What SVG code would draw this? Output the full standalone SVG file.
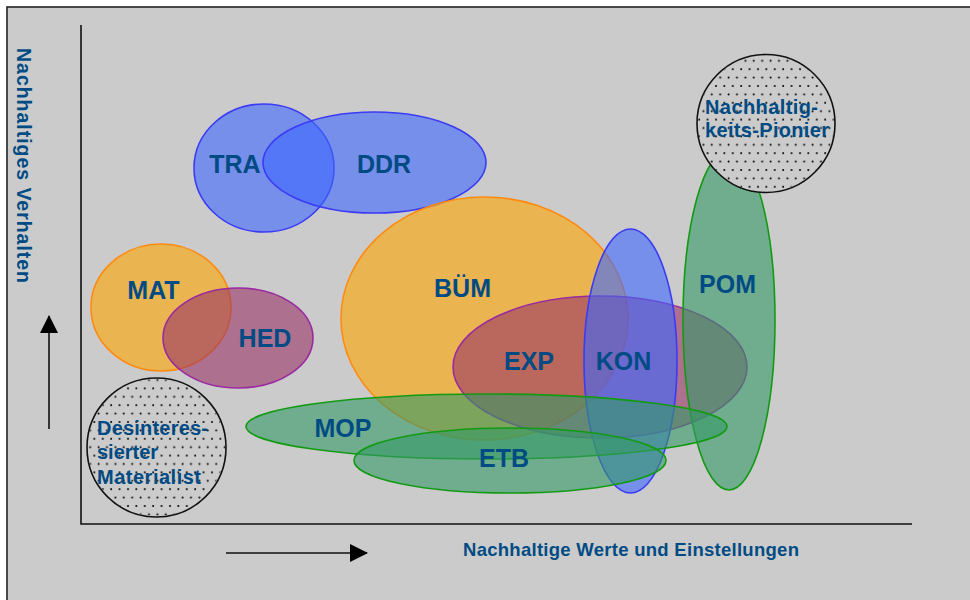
<svg xmlns="http://www.w3.org/2000/svg" width="970" height="600" viewBox="0 0 970 600">
  <defs>
    <pattern id="dots" width="8.4" height="16.8" patternUnits="userSpaceOnUse">
      <circle cx="2" cy="2" r="1" fill="#000"/>
      <circle cx="6.2" cy="10.4" r="1" fill="#000"/>
    </pattern>
    <marker id="arrow" viewBox="0 0 18 18" refX="17" refY="9" markerWidth="18" markerHeight="18" markerUnits="userSpaceOnUse" orient="auto">
      <path d="M0,0 L18,9 L0,18 Z" fill="#000"/>
    </marker>
  </defs>
  <style>
    .blue { fill: #3d67ff; fill-opacity: 0.6; stroke: #3b3bf5; stroke-width: 1.6; }
    .orange { fill: #ffa500; fill-opacity: 0.6; stroke: #ff8a10; stroke-width: 1.6; }
    .purple { fill: #993366; fill-opacity: 0.6; stroke: #9a2aa0; stroke-width: 1.6; }
    .green { fill: #339966; fill-opacity: 0.6; stroke: #139a13; stroke-width: 1.6; }
    .type { fill: #cbcbcb; stroke: #111; stroke-width: 1.6; }
    .lbl { font-family: "Liberation Sans", Arial, sans-serif; font-weight: bold; font-size: 25px; fill: #004b84; text-anchor: middle; }
    .tlbl { font-family: "Liberation Sans", Arial, sans-serif; font-weight: bold; font-size: 20px; fill: #004b84; }
    .axl { font-family: "Liberation Sans", Arial, sans-serif; font-weight: bold; font-size: 18.5px; fill: #004b84; }
    .axv { font-size: 19.5px; }
    .axis { stroke: #111; stroke-width: 1.6; fill: none; }
  </style>

  <!-- background panel -->
  <rect x="0" y="0" width="970" height="600" fill="#fff"/>
  <rect x="7" y="7" width="970" height="600" fill="#cbcbcb" stroke="#222" stroke-width="1.6"/>

  <!-- axes and direction arrows -->
  <g id="connectors">
    <polyline class="axis" points="81,25 81,524 912,524"/>
    <line class="axis" x1="49" y1="429" x2="49" y2="316" marker-end="url(#arrow)"/>
    <line class="axis" x1="226" y1="553" x2="367" y2="553" marker-end="url(#arrow)"/>
  </g>

  <!-- segment areas -->
  <g id="TRA"><ellipse class="blue" cx="264" cy="168" rx="70" ry="64"/></g>
  <g id="DDR"><ellipse class="blue" cx="374.5" cy="162.5" rx="111.5" ry="50.5"/></g>
  <g id="MAT"><ellipse class="orange" cx="161" cy="307.5" rx="70" ry="63.5"/></g>
  <g id="HED"><ellipse class="purple" cx="238" cy="338" rx="75" ry="50"/></g>
  <g id="BUEM"><ellipse class="orange" cx="484.5" cy="318.5" rx="143.5" ry="121.5"/></g>
  <g id="EXP"><ellipse class="purple" cx="600" cy="367" rx="147" ry="71"/></g>
  <g id="KON"><ellipse class="blue" cx="630.5" cy="361" rx="46.5" ry="132"/></g>
  <g id="POM"><ellipse class="green" cx="729" cy="320" rx="46" ry="170"/></g>
  <g id="MOP"><ellipse class="green" cx="486.5" cy="426.5" rx="240.5" ry="32.5"/></g>
  <g id="ETB"><ellipse class="green" cx="510" cy="460.5" rx="156" ry="32.5"/></g>

  <!-- extreme types -->
  <g id="pionier">
    <circle class="type" cx="766" cy="123.5" r="69"/>
    <circle cx="766" cy="123.5" r="68" fill="url(#dots)"/>
  </g>
  <g id="materialist">
    <circle class="type" cx="156.5" cy="447.5" r="69.5"/>
    <circle cx="156.5" cy="447.5" r="68.5" fill="url(#dots)"/>
  </g>

  <!-- labels -->
  <g id="labels">
    <text class="lbl" x="235" y="173">TRA</text>
    <text class="lbl" x="384" y="173">DDR</text>
    <text class="lbl" x="153.5" y="299">MAT</text>
    <text class="lbl" x="265" y="347">HED</text>
    <text class="lbl" x="462.5" y="297">BÜM</text>
    <text class="lbl" x="529" y="370">EXP</text>
    <text class="lbl" x="623.5" y="370">KON</text>
    <text class="lbl" x="727.5" y="293">POM</text>
    <text class="lbl" x="343" y="437">MOP</text>
    <text class="lbl" x="504" y="467">ETB</text>
    <text class="tlbl" x="705" y="114" textLength="113" lengthAdjust="spacing">Nachhaltig-</text>
    <text class="tlbl" x="705" y="137" textLength="124" lengthAdjust="spacing">keits-Pionier</text>
    <text class="tlbl" x="97" y="435" textLength="111" lengthAdjust="spacing">Desinteres-</text>
    <text class="tlbl" x="97" y="459">sierter</text>
    <text class="tlbl" x="97" y="484" textLength="104" lengthAdjust="spacing">Materialist</text>
    <text class="axl axv" transform="translate(17,48) rotate(90)" textLength="235" lengthAdjust="spacing">Nachhaltiges Verhalten</text>
    <text class="axl" x="463" y="556" textLength="336" lengthAdjust="spacing">Nachhaltige Werte und Einstellungen</text>
  </g>
</svg>
